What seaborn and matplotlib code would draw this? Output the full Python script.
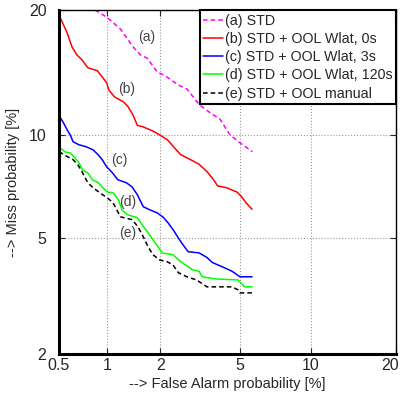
import numpy as np
import pandas as pd
import matplotlib
matplotlib.use("Agg")
import matplotlib.pyplot as plt
import matplotlib.transforms as mtrans
import seaborn as sns
from statistics import NormalDist

# -----------------------------
# DET curve data (percent)
# -----------------------------
fa_a = [0.84, 0.99, 1.19, 1.41, 1.55, 1.69, 1.92, 2.13, 2.48, 2.76, 3.18, 3.6, 4.03, 4.25, 4.5, 4.9, 5.7]
miss_a = [20.0, 19.3, 18.2, 16.56, 15.87, 15.6, 14.46, 14.14, 13.45, 13.14, 12.0, 11.45, 11.0, 10.5, 10.0, 9.6, 9.0]

fa_b = [0.5, 0.524, 0.565, 0.605, 0.65, 0.7, 0.76, 0.87, 0.93, 0.99, 1.02, 1.1, 1.24, 1.32, 1.41, 1.49,
        1.61, 1.81, 1.98, 2.18, 2.35, 2.56, 2.88, 3.18, 3.49, 3.75, 3.92, 4.35, 4.85, 5.1, 5.35, 5.68]
miss_b = [19.5, 18.85, 17.8, 16.56, 15.87, 15.45, 14.8, 14.55, 14.06, 13.6, 13.06, 12.55, 12.2, 11.85, 11.27, 10.6,
          10.5, 10.25, 10.0, 9.7, 9.28, 8.83, 8.55, 8.3, 7.9, 7.5, 7.2, 7.1, 6.9, 6.68, 6.4, 6.13]

fa_c = [0.5, 0.532, 0.565, 0.59, 0.615, 0.67, 0.745, 0.82, 0.88, 0.93, 0.99, 1.07, 1.15, 1.29, 1.39, 1.49,
        1.61, 1.76, 1.92, 2.07, 2.2, 2.34, 2.49, 2.63, 2.8, 3.18, 3.48, 3.7, 4.36, 4.6, 5.0, 5.68]
miss_c = [11.25, 10.8, 10.3, 10.0, 9.58, 9.4, 9.28, 9.1, 8.82, 8.55, 8.16, 7.85, 7.5, 7.35, 7.15, 6.78,
          6.24, 6.1, 5.98, 5.8, 5.57, 5.3, 5.0, 4.76, 4.52, 4.48, 4.33, 4.17, 3.97, 3.9, 3.74, 3.74]

fa_d = [0.5, 0.548, 0.59, 0.63, 0.67, 0.705, 0.76, 0.81, 0.88, 0.94, 1.0, 1.08, 1.16, 1.22, 1.31, 1.49,
        1.61, 1.71, 1.82, 1.94, 2.04, 2.33, 2.56, 2.94, 3.18, 3.3, 3.8, 4.9, 5.25, 5.68]
miss_d = [9.28, 8.98, 8.93, 8.66, 8.38, 8.0, 7.85, 7.5, 7.35, 7.1, 6.9, 6.87, 6.55, 6.1, 5.9, 5.78,
          5.43, 5.2, 4.93, 4.69, 4.48, 4.42, 4.2, 3.95, 3.9, 3.74, 3.68, 3.65, 3.46, 3.46]

fa_e = [0.5, 0.565, 0.615, 0.66, 0.705, 0.76, 0.82, 0.9, 0.99, 1.07, 1.12, 1.19, 1.39, 1.5, 1.61, 1.71,
        1.82, 1.98, 2.16, 2.33, 2.49, 2.76, 3.09, 3.27, 3.48, 4.6, 4.9, 5.0, 5.68]
miss_e = [9.0, 8.72, 8.55, 8.27, 7.85, 7.35, 7.1, 6.87, 6.65, 6.45, 6.2, 5.82, 5.7, 5.43, 5.04, 4.69,
          4.42, 4.25, 4.2, 4.1, 3.86, 3.74, 3.65, 3.56, 3.46, 3.46, 3.38, 3.3, 3.3]

labels = ["(a) STD", "(b) STD + OOL Wlat, 0s", "(c) STD + OOL Wlat, 3s",
          "(d) STD + OOL Wlat, 120s", "(e) STD + OOL manual"]
tags = ["(a)", "(b)", "(c)", "(d)", "(e)"]
tag_x = [1.69, 1.29, 1.17, 1.31, 1.31]
tag_y = [17.4, 13.1, 8.55, 6.45, 5.2]

ticks = [0.5, 1, 2, 5, 10, 20]
yticks = [2, 5, 10, 20]

# -----------------------------
# probit (normal deviate) scale
# -----------------------------
_nd = NormalDist()
_ppf = np.vectorize(lambda p: _nd.inv_cdf(min(max(p / 100.0, 1e-9), 1 - 1e-9)), otypes=[float])
_cdf = np.vectorize(lambda z: 100.0 * _nd.cdf(z), otypes=[float])


def fwd(p):
    return _ppf(np.asarray(p, dtype=float))


def inv(z):
    return _cdf(np.asarray(z, dtype=float))


sns.set_style("ticks")
plt.rcParams['font.family'] = ['Liberation Sans', 'DejaVu Sans']

fig = plt.figure(figsize=(4.03, 3.94), dpi=100)
ax = fig.add_axes([0.1464, 0.1015, 0.8362, 0.8731])
ax.set_xscale('function', functions=(fwd, inv))
ax.set_yscale('function', functions=(fwd, inv))

series = [(fa_a, miss_a, "#ff00ff", (0, (3, 2))),
          (fa_b, miss_b, "#ff0000", "-"),
          (fa_c, miss_c, "#0000ff", "-"),
          (fa_d, miss_d, "#00ff00", "-"),
          (fa_e, miss_e, "#000000", (0, (3, 2)))]

for (fx, fy, col, ls), lab in zip(series, labels):
    df = pd.DataFrame({"fa": fx, "miss": fy})
    sns.lineplot(data=df, x="fa", y="miss", ax=ax, color=col, linestyle=ls,
                 linewidth=1.1, sort=False, estimator=None, label=lab)

for t, tx, ty in zip(tags, tag_x, tag_y):
    ax.text(tx, ty, t, fontsize=10, color="#444444", ha="center", va="center")

ax.set_xlim(0.5, 20)
ax.set_ylim(2, 20)
ax.set_xticks(ticks)
ax.set_xticklabels([f"{t:g}" for t in ticks])
ax.set_yticks(yticks)
ax.set_yticklabels([f"{t:g}" for t in yticks])
ax.minorticks_off()
ax.tick_params(direction='in', top=True, right=True, length=4, labelsize=11.5)
ax.tick_params(axis='x', pad=3)
ax.tick_params(axis='y', pad=9)
ax.grid(True, linestyle=":", color="#999999", linewidth=0.8)

# keep the last x tick label inside the figure
last = ax.get_xticklabels()[-1]
last.set_transform(last.get_transform() + mtrans.ScaledTranslation(-4 / 72, 0, fig.dpi_scale_trans))

for s in ax.spines.values():
    s.set_linewidth(1.0)
    s.set_color("black")
ax.spines['left'].set_linewidth(2.2)
ax.spines['bottom'].set_linewidth(2.2)

ax.set_xlabel("--> False Alarm probability [%]", fontsize=10.5, labelpad=3)
ax.set_ylabel("--> Miss probability [%]", fontsize=10.5, labelpad=6)

leg = ax.legend(loc="upper right", fontsize=10.3, fancybox=False, framealpha=1,
                edgecolor="black", borderaxespad=0, handlelength=1.4,
                handletextpad=0.1, labelspacing=0.3, borderpad=0.25)
leg.get_frame().set_linewidth(1.5)

fig.savefig("out.png", dpi=100)
